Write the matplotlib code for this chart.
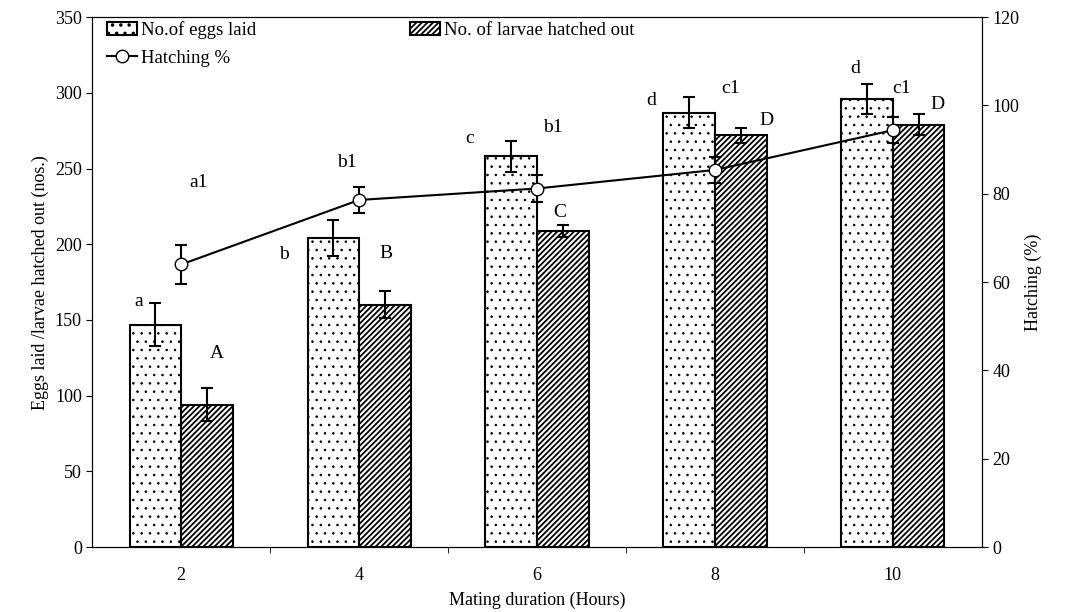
import matplotlib.pyplot as plt
import numpy as np

plt.rcParams['font.family'] = ['Liberation Serif', 'DejaVu Serif']

# Data
hours = ['2', '4', '6', '8', '10']
eggs = [147, 204, 258, 287, 296]
eggs_err = [14, 12, 10, 10, 10]
larvae = [94, 160, 209, 272, 279]
larvae_err = [11, 9, 4, 5, 7]
hatching = [64.0, 78.6, 81.2, 85.4, 94.4]
hatching_err = [4.5, 3.0, 3.0, 3.0, 3.0]

eggs_letters = ['a', 'b', 'c', 'd', 'd']
larvae_letters = ['A', 'B', 'C', 'D', 'D']
hatch_letters = ['a1', 'b1', 'b1', 'c1', 'c1']

# where the letters sit (x offset from category, y on left axis)
eggs_lab_pos = [(-0.24, 162), (-0.42, 193), (-0.38, 270), (-0.36, 295), (-0.21, 316)]
larvae_lab_pos = [(0.20, 128), (0.15, 194), (0.13, 221), (0.29, 282), (0.25, 292)]
hatch_lab_pos = [(0.10, 241), (-0.07, 254), (0.09, 277), (0.09, 303), (0.05, 303)]

x = np.arange(len(hours))
w = 0.29

fig, ax = plt.subplots(figsize=(10.73, 6.12), dpi=100)
fig.subplots_adjust(left=0.086, right=0.915, top=0.972, bottom=0.106)

plt.rcParams['hatch.linewidth'] = 0.6
b1 = ax.bar(x - w / 2, eggs, w, color='white', edgecolor='black', hatch='..',
            linewidth=1.5, label='No.of eggs laid')
plt.rcParams['hatch.linewidth'] = 1.3
b2 = ax.bar(x + w / 2, larvae, w, color='white', edgecolor='black', hatch='//////',
            linewidth=1.5, label='No. of larvae hatched out')
ax.errorbar(x - w / 2, eggs, yerr=eggs_err, fmt='none', ecolor='black',
            capsize=4, elinewidth=1.5, capthick=1.5)
ax.errorbar(x + w / 2, larvae, yerr=larvae_err, fmt='none', ecolor='black',
            capsize=4, elinewidth=1.5, capthick=1.5)

ax.set_xlim(-0.5, len(hours) - 0.5)
ax.set_ylim(0, 350)
ax.set_yticks(range(0, 351, 50))
ax.set_xticks(x)
ax.set_xticklabels(hours)
ax.set_xticks(np.arange(0.5, len(hours) - 1, 1), minor=True)
ax.tick_params(axis='x', which='major', length=0, labelsize=13, pad=14)
ax.tick_params(axis='x', which='minor', length=4, direction='out')
ax.tick_params(axis='y', labelsize=13, direction='out', length=4)
ax.set_xlabel('Mating duration (Hours)', fontsize=13, labelpad=6)
ax.set_ylabel('Eggs laid /larvae hatched out (nos.)', fontsize=13)

ax2 = ax.twinx()
ln, = ax2.plot(x, hatching, color='black', marker='o', markersize=9,
               markerfacecolor='white', markeredgecolor='black', linewidth=1.5,
               label='Hatching %', zorder=5)
ax2.errorbar(x, hatching, yerr=hatching_err, fmt='none', ecolor='black',
             capsize=4, elinewidth=1.5, capthick=1.5, zorder=4)
ax2.set_ylim(0, 120)
ax2.set_yticks(range(0, 121, 20))
ax2.tick_params(axis='y', labelsize=13, direction='out', length=4)
ax2.set_ylabel('Hatching (%)', fontsize=13)

for i in range(len(hours)):
    for pos, lab in ((eggs_lab_pos[i], eggs_letters[i]),
                     (larvae_lab_pos[i], larvae_letters[i]),
                     (hatch_lab_pos[i], hatch_letters[i])):
        ax.text(x[i] + pos[0], pos[1], lab, fontsize=14, ha='center', va='center')

ax.legend([b1, ln, b2], ['No.of eggs laid', 'Hatching %', 'No. of larvae hatched out'],
          ncol=2, loc='upper left', bbox_to_anchor=(0.0, 1.02), frameon=False,
          fontsize=13.5, handlelength=1.6, handletextpad=0.2, columnspacing=8.2,
          labelspacing=0.55, borderaxespad=0.4)

plt.savefig('out.png', dpi=100)
